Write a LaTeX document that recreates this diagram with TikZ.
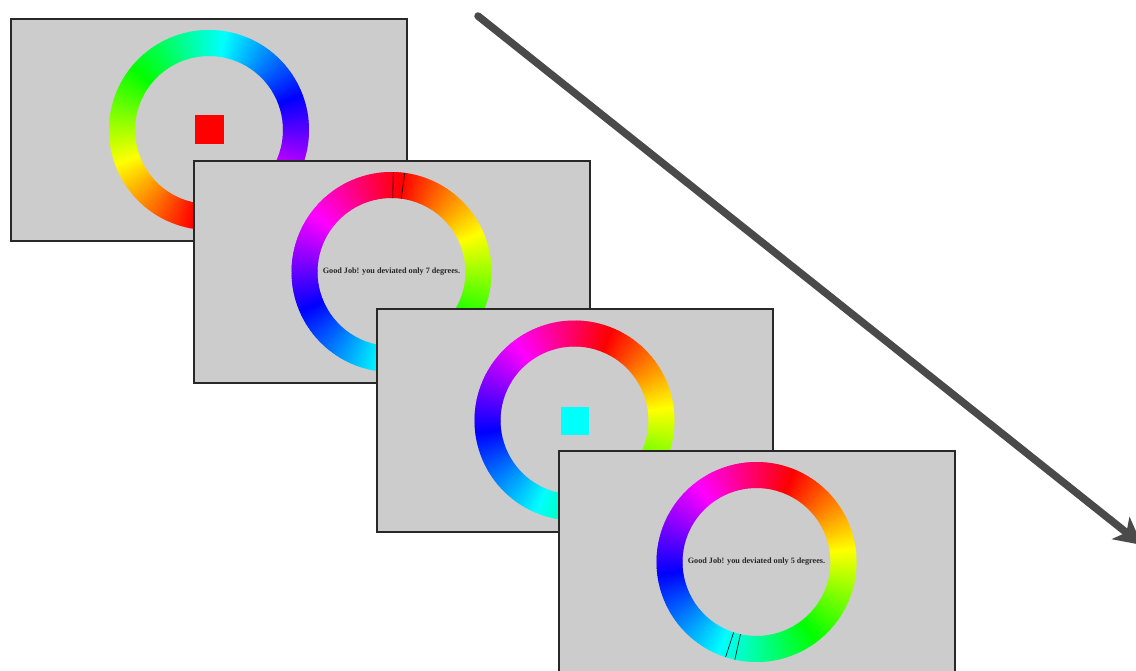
\documentclass[tikz,border=0pt]{standalone}
\usepackage{fontspec}
\setmainfont{Liberation Serif}
\usetikzlibrary{arrows.meta,calc}
\definecolor{panelgray}{RGB}{204,204,204}
\definecolor{framecol}{RGB}{40,40,40}
\definecolor{arrowgray}{RGB}{74,74,74}
\definecolor{cuered}{RGB}{255,0,0}
\definecolor{cuecyan}{RGB}{0,255,255}
\tikzset{
  panel/.style={draw=framecol, line width=2pt, fill=panelgray, minimum width=396pt, minimum height=222pt, inner sep=0pt, outer sep=0pt},
  msg/.style={font=\bfseries\fontsize{8.2}{10}\selectfont, text=black!85, inner sep=0pt},
  cue/.style={minimum size=29pt, inner sep=0pt, outer sep=0pt},
  marker/.style={line width=0.6pt, black},
  big arrow/.style={draw=arrowgray, line width=7.5pt, line cap=round, -{Stealth[length=27pt,width=28pt,inset=7pt]}},
}
\newcommand{\myhuering}[2]{%
  \foreach \t in {0,...,359}{%
    \pgfmathsetmacro{\hh}{mod(\t+#2+720,360)/360}%
    \definecolor{hc}{hsb}{\hh,1,1}%
    \fill[hc] ($(#1)+(\t:100)$) arc[start angle=\t, end angle=\t+1.4, radius=100]
      -- ($(#1)+(\t+1.4:74)$) arc[start angle=\t+1.4, end angle=\t, radius=74] -- cycle;
  }}
\begin{document}
\begin{tikzpicture}[x=1pt,y=-1pt]
\useasboundingbox (0,0) rectangle (1136,671);
\clip (0,0) rectangle (1136,671);
\fill[white] (0,0) rectangle (1136,671);

% panel 1
\node[panel] (p1) at (209,130) {};
\myhuering{p1.center}{261}
\node[cue, fill=cuered] (s1) at (p1.center) {};

% panel 2
\node[panel] (p2) at (391.5,272) {};
\myhuering{p2.center}{84}
\draw[marker] ($(p2.center)+(-89:74)$) -- ($(p2.center)+(-89:100)$);
\draw[marker] ($(p2.center)+(-82.4:74)$) -- ($(p2.center)+(-82.4:100)$);
\node[msg] (m2) at (p2.center) {Good Job! you deviated only 7 degrees.};

% panel 3
\node[panel] (p3) at (574.5,420.5) {};
\myhuering{p3.center}{68}
\node[cue, fill=cuecyan, minimum size=28pt] (s3) at (p3.center) {};

% panel 4
\node[panel] (p4) at (756.5,562) {};
\myhuering{p4.center}{68}
\draw[marker] ($(p4.center)+(108:74)$) -- ($(p4.center)+(108:100)$);
\draw[marker] ($(p4.center)+(102.5:74)$) -- ($(p4.center)+(102.5:100)$);
\node[msg] (m4) at (p4.center) {Good Job! you deviated only 5 degrees.};

% arrow
\coordinate (a0) at (478,16);
\coordinate (a1) at (1142,545);
\draw[big arrow] (a0) -- (a1);
\end{tikzpicture}
\end{document}
